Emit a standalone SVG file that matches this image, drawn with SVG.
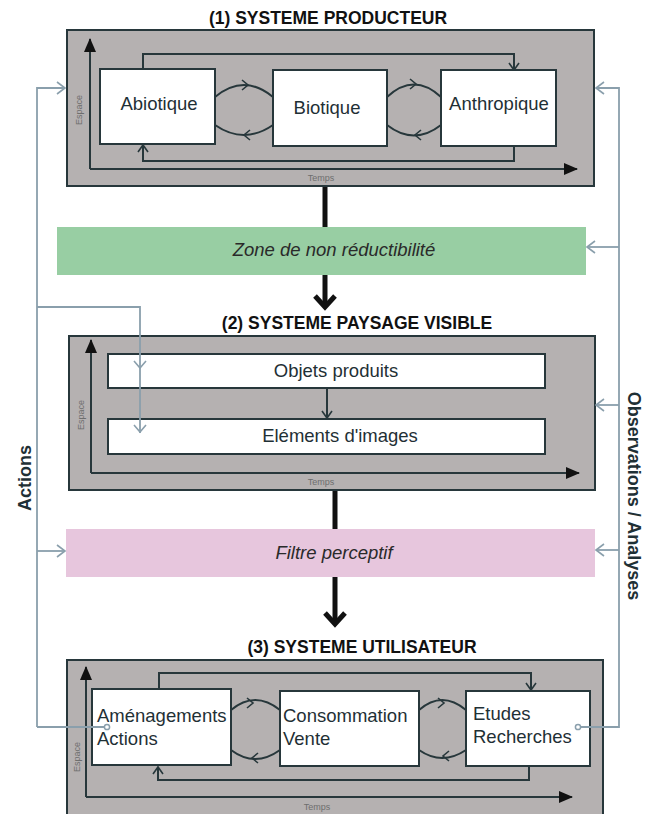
<svg xmlns="http://www.w3.org/2000/svg" width="646" height="814" viewBox="0 0 646 814">
<style>
.sys{fill:#b5b1b1;stroke:#27373b;stroke-width:2}
.node{fill:#ffffff;stroke:#27373b;stroke-width:2}
.t{font-family:"Liberation Sans",Arial,sans-serif;font-size:18.5px;fill:#1f3035}
.title{font-family:"Liberation Sans",Arial,sans-serif;font-size:17.5px;font-weight:bold;fill:#111}
.side{font-family:"Liberation Sans",Arial,sans-serif;font-size:18px;font-weight:bold;fill:#1f3035}
.it{font-family:"Liberation Sans",Arial,sans-serif;font-size:18.5px;font-style:italic;fill:#2a2a2a}
.small{font-family:"Liberation Sans",Arial,sans-serif;font-size:9px;fill:#6e6e6e}
.axis{fill:none;stroke:#27373b;stroke-width:2;marker-end:url(#tri)}
.loop{fill:none;stroke:#27373b;stroke-width:2}
.chev{fill:none;stroke:#27373b;stroke-width:1.6}
.gray{fill:none;stroke:#8a9fac;stroke-width:1.8}
.gchev{fill:none;stroke:#8a9fac;stroke-width:1.6}
.thick{fill:none;stroke:#111;stroke-width:5}
</style>
<defs>
<marker id="tri" markerUnits="userSpaceOnUse" markerWidth="14" markerHeight="12" refX="13" refY="6" orient="auto">
<path d="M0,0 L14,6 L0,12 z" fill="#111"/>
</marker>
<marker id="open" markerUnits="userSpaceOnUse" markerWidth="12" markerHeight="12" refX="9" refY="6" orient="auto">
<path d="M2,1 L9,6 L2,11" fill="none" stroke="#27373b" stroke-width="1.6"/>
</marker>
<marker id="gopen" markerUnits="userSpaceOnUse" markerWidth="12" markerHeight="14" refX="9" refY="7" orient="auto">
<path d="M1,1 L9,7 L1,13" fill="none" stroke="#8a9fac" stroke-width="1.6"/>
</marker>
</defs>

<!-- System 1 -->
<g id="system1">
<text class="title" x="328" y="24" text-anchor="middle">(1) SYSTEME PRODUCTEUR</text>
<rect class="sys" x="67" y="30" width="527" height="156"/>
<path class="axis" d="M90,169 V39"/>
<path class="axis" d="M90,169 H577"/>
<text class="small" transform="translate(82,110) rotate(-90)" text-anchor="middle">Espace</text>
<text class="small" x="321" y="181" text-anchor="middle">Temps</text>
<path class="loop" d="M143,69 V54 H514 V70" marker-end="url(#open)"/>
<path class="loop" d="M514,146 V161 H143 V145" marker-end="url(#open)"/>
<path class="loop" d="M215,97 Q244,73 273,97"/>
<path class="chev" d="M242,80 L248,85 L242,90"/>
<path class="loop" d="M215,125 Q244,145 273,125"/>
<path class="chev" d="M250,130 L244,135 L250,140"/>
<path class="loop" d="M387,97 Q414,72 441,97"/>
<path class="chev" d="M410,79 L416,84 L410,89"/>
<path class="loop" d="M387,125 Q414,146 441,125"/>
<path class="chev" d="M421,130 L415,135 L421,140"/>
</g>
<g id="abiotique">
<rect class="node" x="100" y="69" width="115" height="75"/>
<text class="t" x="159" y="110" text-anchor="middle">Abiotique</text>
</g>
<g id="biotique">
<rect class="node" x="273" y="70" width="114" height="76"/>
<text class="t" x="327" y="114" text-anchor="middle">Biotique</text>
</g>
<g id="anthropique">
<rect class="node" x="441" y="70" width="115" height="76"/>
<text class="t" x="499" y="110" text-anchor="middle">Anthropique</text>
</g>

<!-- Zone -->
<g id="zone">
<rect x="57" y="227" width="529" height="48" fill="#98cea3"/>
<text class="it" x="334" y="256" text-anchor="middle">Zone de non réductibilité</text>
</g>

<!-- System 2 -->
<g id="system2">
<text class="title" x="357" y="329" text-anchor="middle">(2) SYSTEME PAYSAGE VISIBLE</text>
<rect class="sys" x="69" y="336" width="526" height="154"/>
<path class="axis" d="M91,473 V340"/>
<path class="axis" d="M91,473 H579"/>
<text class="small" transform="translate(84,415) rotate(-90)" text-anchor="middle">Espace</text>
<text class="small" x="321" y="485" text-anchor="middle">Temps</text>
</g>
<g id="objets">
<rect class="node" x="108" y="354" width="437" height="34"/>
<text class="t" x="336" y="377" text-anchor="middle">Objets produits</text>
</g>
<g id="elements">
<rect class="node" x="108" y="419" width="437" height="35"/>
<text class="t" x="340" y="442" text-anchor="middle">Eléments d'images</text>
</g>

<!-- Filtre -->
<g id="filtre">
<rect x="66" y="529" width="529" height="48" fill="#e7c6dd"/>
<text class="it" x="334" y="559" text-anchor="middle">Filtre perceptif</text>
</g>

<!-- System 3 -->
<g id="system3">
<text class="title" x="362" y="653" text-anchor="middle">(3) SYSTEME UTILISATEUR</text>
<rect class="sys" x="67" y="660" width="536" height="162"/>
<path class="axis" d="M86,797 V667"/>
<path class="axis" d="M86,797 H572"/>
<text class="small" transform="translate(80,757) rotate(-90)" text-anchor="middle">Espace</text>
<text class="small" x="317" y="810" text-anchor="middle">Temps</text>
<path class="loop" d="M159,689 V673 H531 V690" marker-end="url(#open)"/>
<path class="loop" d="M529,766 V780 H158 V767" marker-end="url(#open)"/>
<path class="loop" d="M231,710 Q255,690 280,710"/>
<path class="chev" d="M247,698 L253,703 L247,708"/>
<path class="loop" d="M231,750 Q255,768 280,750"/>
<path class="chev" d="M258,753 L252,758 L258,763"/>
<path class="loop" d="M419,710 Q442,690 466,710"/>
<path class="chev" d="M438,698 L444,703 L438,708"/>
<path class="loop" d="M419,750 Q442,766 466,750"/>
<path class="chev" d="M449,751 L443,756 L449,761"/>
</g>
<g id="amenagements">
<rect class="node" x="92" y="689" width="139" height="76"/>
<text class="t" x="97" y="722">Aménagements</text>
<text class="t" x="97" y="745">Actions</text>
</g>
<g id="consommation">
<rect class="node" x="280" y="691" width="139" height="75"/>
<text class="t" x="283" y="722">Consommation</text>
<text class="t" x="283" y="745">Vente</text>
</g>
<g id="etudes">
<rect class="node" x="466" y="691" width="124" height="75"/>
<text class="t" x="473" y="720">Etudes</text>
<text class="t" x="473" y="743">Recherches</text>
</g>

<!-- Connectors -->
<g id="connectors">
<path class="thick" d="M325,187 V227"/>
<path class="thick" d="M325,275 V307"/>
<path class="thick" d="M315,296 L325,307 L335,296"/>
<path class="thick" d="M335,491 V529"/>
<path class="thick" d="M335,577 V624"/>
<path class="thick" d="M325,613 L335,624 L345,613"/>
<path class="loop" d="M327,389 V418" marker-end="url(#open)"/>
<!-- Actions (left) -->
<path class="gray" d="M37,727 V88 H65" marker-end="url(#gopen)"/>
<path class="gray" d="M37,551 H65" marker-end="url(#gopen)"/>
<path class="gray" d="M37,307 H140 V433"/>
<path class="gchev" d="M134,361 L140,368 L146,361"/>
<path class="gchev" d="M134,425 L140,432 L146,425"/>
<path class="gray" d="M37,727 H104.5"/>
<circle cx="107" cy="727" r="2.6" fill="none" stroke="#8a9fac" stroke-width="1.5"/>
<!-- Observations (right) -->
<path class="gray" d="M581,727 H619 V88 H596" marker-end="url(#gopen)"/>
<path class="gray" d="M619,247 H587" marker-end="url(#gopen)"/>
<path class="gray" d="M619,405 H596" marker-end="url(#gopen)"/>
<path class="gray" d="M619,550 H596" marker-end="url(#gopen)"/>
<circle cx="578" cy="727" r="2.6" fill="none" stroke="#8a9fac" stroke-width="1.5"/>
</g>

<text class="side" transform="translate(31,478) rotate(-90)" text-anchor="middle">Actions</text>
<text class="side" transform="translate(628,496) rotate(90)" text-anchor="middle">Observations / Analyses</text>
</svg>
